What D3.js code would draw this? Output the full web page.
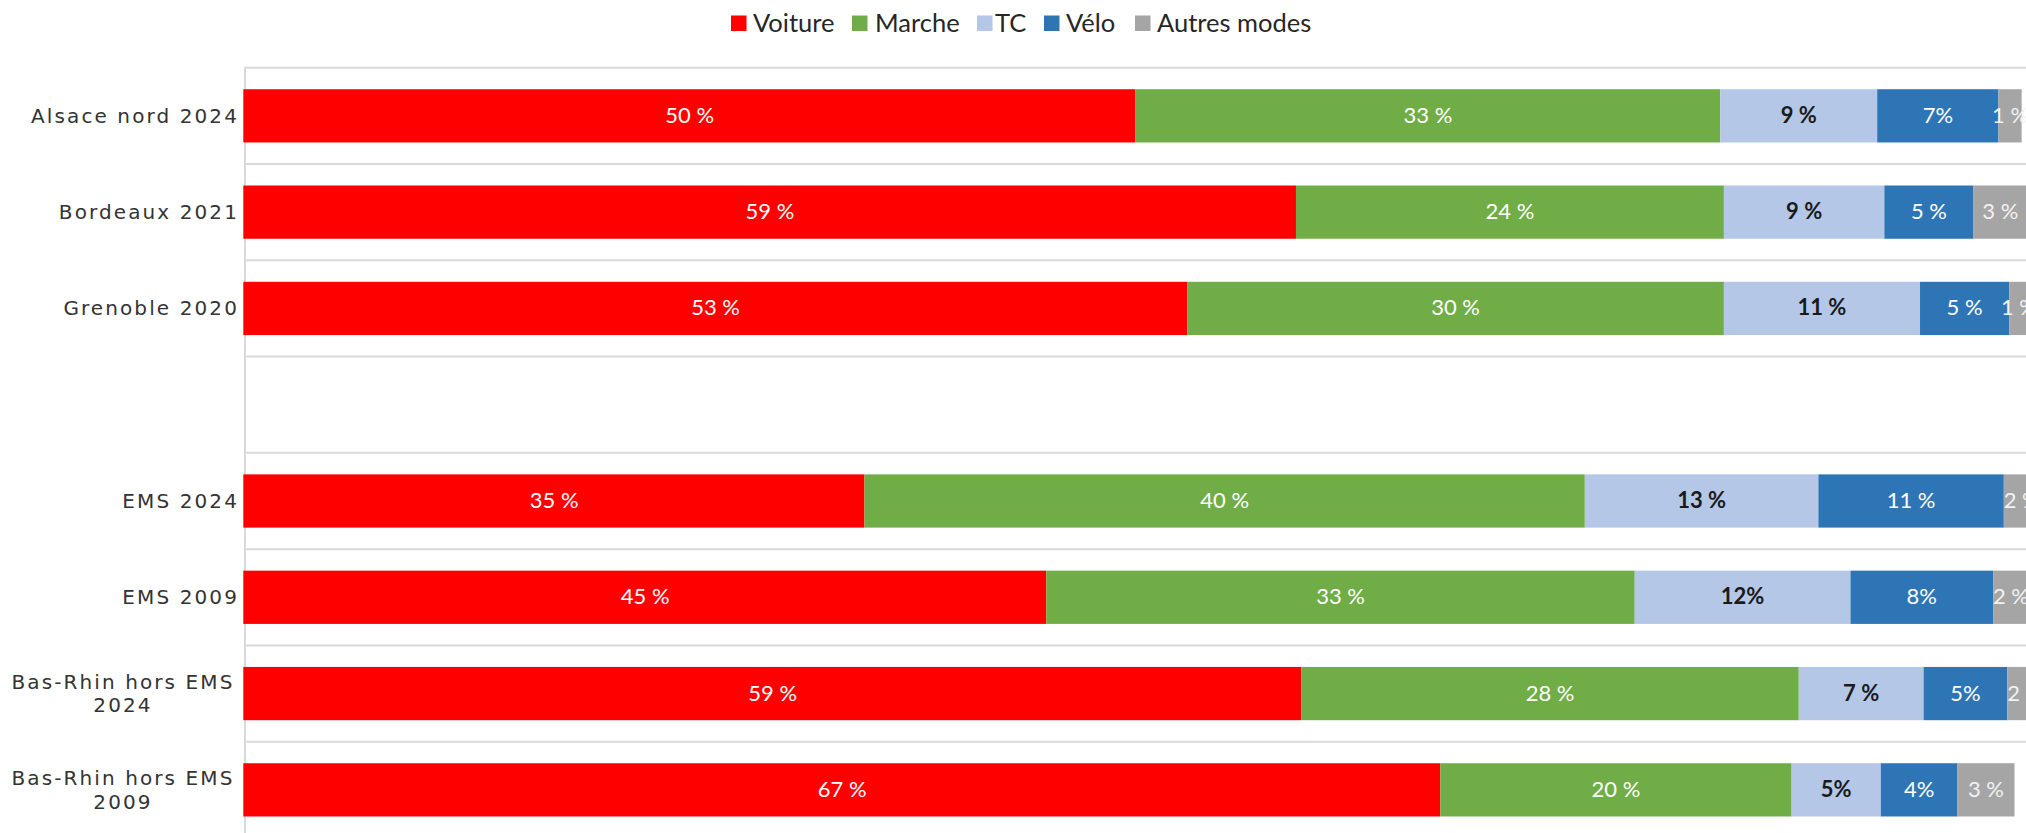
<!DOCTYPE html>
<html>
<head>
<meta charset="utf-8">
<script src="https://cdn.jsdelivr.net/npm/d3@7"></script>
<style>
  html, body { margin: 0; padding: 0; background: #fff; }
  svg { display: block; }
</style>
</head>
<body>
<svg id="chart" width="2026" height="833"></svg>
<script>
// ---- data ----
const categories = ["Alsace nord 2024", "Bordeaux 2021", "Grenoble 2020", "", "EMS 2024", "EMS 2009", "Bas-Rhin hors EMS 2024", "Bas-Rhin hors EMS 2009"];
const seriesNames = ["Voiture", "Marche", "TC", "Vélo", "Autres modes"];
const voiture = [50.0, 59.0, 52.9, 0, 34.8, 45.0, 59.3, 67.1];
const marche  = [32.8, 24.0, 30.1, 0, 40.4, 33.0, 27.9, 19.7];
const tc      = [8.8, 9.0, 11.0, 0, 13.1, 12.1, 7.0, 5.0];
const velo    = [6.8, 5.0, 5.0, 0, 10.4, 8.0, 4.7, 4.3];
const autres  = [1.3, 3.0, 1.1, 0, 2.0, 2.0, 2.0, 3.2];
const voitureLabels = ["50 %", "59 %", "53 %", "", "35 %", "45 %", "59 %", "67 %"];
const marcheLabels  = ["33 %", "24 %", "30 %", "", "40 %", "33 %", "28 %", "20 %"];
const tcLabels      = ["9 %", "9 %", "11 %", "", "13 %", "12%", "7 %", "5%"];
const veloLabels    = ["7%", "5 %", "5 %", "", "11 %", "8%", "5%", "4%"];
const autresLabels  = ["1 %", "3 %", "1 %", "", "2 %", "2 %", "2 %", "3 %"];

const colors = ["#FF0000", "#70AD47", "#B4C7E7", "#2E75B6", "#A5A5A5"];
const labelColors = ["#ffffff", "#ffffff", "#1a1a1a", "#ffffff", "#f2f2f2"];
const labelWeights = ["normal", "normal", "bold", "normal", "normal"];

const valuesBySeries = [voiture, marche, tc, velo, autres];
const labelsBySeries = [voitureLabels, marcheLabels, tcLabels, veloLabels, autresLabels];

const rows = categories.map((c, i) => {
  const r = { key: "k" + i, name: c };
  seriesNames.forEach((s, j) => r[s] = valuesBySeries[j][i]);
  return r;
});

// ---- layout ----
const W = 2026, H = 833;
const plotLeft = 244, plotRight = 2027, plotTop = 67.7, plotBottom = 838;
const svg = d3.select("#chart");

const x = d3.scaleLinear().domain([0, 100]).range([plotLeft, plotRight]);
const y = d3.scaleBand().domain(rows.map(r => r.key)).range([plotTop, plotBottom])
  .paddingInner(0.447).paddingOuter(0.2235);

const step = y.step();

// gridlines at category boundaries
const bounds = d3.range(rows.length + 1).map(i => plotTop + i * step);
svg.append("g").selectAll("line").data(bounds).join("line")
  .attr("x1", plotLeft).attr("x2", W)
  .attr("y1", d => d).attr("y2", d => d)
  .attr("stroke", "#d9d9d9").attr("stroke-width", 2);

// vertical axis
svg.append("line")
  .attr("x1", plotLeft + 1).attr("x2", plotLeft + 1)
  .attr("y1", plotTop).attr("y2", H)
  .attr("stroke", "#d9d9d9").attr("stroke-width", 2);

// stacked bars
const stack = d3.stack().keys(seriesNames);
const stacked = stack(rows);
const labelFont = "Lato, 'Liberation Sans Narrow', sans-serif";

stacked.forEach((layer, j) => {
  const g = svg.append("g");
  g.selectAll("rect").data(layer.filter(d => d.data.name !== "")).join("rect")
    .attr("x", d => x(d[0]) - (j === 0 ? 0.7 : 0))
    .attr("width", d => x(d[1]) - x(d[0]) + (j === 0 ? 0.7 : 0))
    .attr("y", d => y(d.data.key))
    .attr("height", y.bandwidth())
    .attr("fill", colors[j]);
});

stacked.forEach((layer, j) => {
  const g = svg.append("g");
  g.selectAll("text").data(layer.filter(d => d.data.name !== "")).join("text")
    .attr("x", d => (x(d[0]) + x(d[1])) / 2)
    .attr("y", d => y(d.data.key) + y.bandwidth() / 2 + 7)
    .attr("text-anchor", "middle")
    .attr("font-family", labelFont)
    .attr("font-size", 22)
    .attr("font-weight", labelWeights[j])
    .attr("fill", labelColors[j])
    .text(d => labelsBySeries[j][rows.indexOf(d.data)]);
});

// category labels
const catG = svg.append("g");
rows.forEach(r => {
  if (!r.name) return;
  let lines = [r.name];
  if (r.name.length > 18) {
    const k = r.name.lastIndexOf(" ");
    lines = [r.name.slice(0, k), r.name.slice(k + 1)];
  }
  const cy = y(r.key) + y.bandwidth() / 2;
  const lh = 23.5;
  const t = catG.append("text")
    .attr("font-family", "'DejaVu Sans', Verdana, sans-serif")
    .attr("font-size", 20)
    .attr("letter-spacing", 2.1)
    .attr("fill", "#333333");
  if (lines.length === 1) {
    t.attr("x", 239).attr("y", cy + 7).attr("text-anchor", "end").text(lines[0]);
  } else {
    const cx = 123;
    lines.forEach((ln, i) => {
      t.append("tspan")
        .attr("x", cx).attr("text-anchor", "middle")
        .attr("y", cy + 7 + (i - (lines.length - 1) / 2) * lh)
        .text(ln);
    });
  }
});

// legend
const legendItems = [
  { name: seriesNames[0], sq: 731, tx: 753 },
  { name: seriesNames[1], sq: 852, tx: 875 },
  { name: seriesNames[2], sq: 977, tx: 995 },
  { name: seriesNames[3], sq: 1044, tx: 1066 },
  { name: seriesNames[4], sq: 1135, tx: 1157 }
];
const lg = svg.append("g");
legendItems.forEach((it, j) => {
  lg.append("rect").attr("x", it.sq).attr("y", 15.5).attr("width", 15.5).attr("height", 15.5).attr("fill", colors[j]);
  lg.append("text").attr("x", it.tx).attr("y", 32)
    .attr("font-family", labelFont).attr("font-size", 25.5)
    .attr("fill", "#262626").text(it.name);
});
</script>
</body>
</html>
